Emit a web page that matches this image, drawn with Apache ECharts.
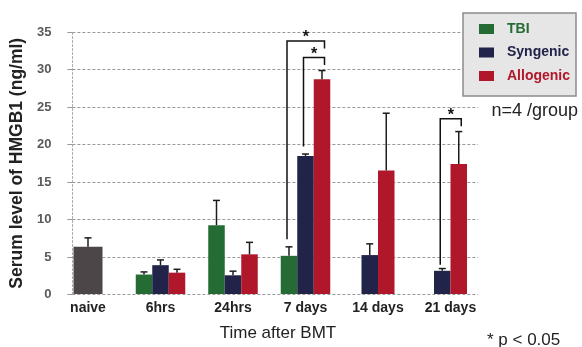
<!DOCTYPE html>
<html><head><meta charset="utf-8">
<script src="https://cdn.jsdelivr.net/npm/echarts@6/dist/echarts.min.js"></script>
<style>html,body{margin:0;padding:0;background:#fff}#c{width:582px;height:347px}</style>
</head><body><div id="c"></div>
<script>
// ---- data ----
var categories = ['naive', '6hrs', '24hrs', '7 days', '14 days', '21 days'];
var naiveMean = [6.3, null, null, null, null, null];
var naiveErr  = [1.2, null, null, null, null, null];
var tbiMean   = [null, 2.6, 9.2, 5.1, null, null];
var tbiErr    = [null, 0.35, 3.3, 1.2, null, null];
var synMean   = [null, 3.85, 2.5, 18.45, 5.2, 3.1];
var synErr    = [null, 0.7, 0.55, 0.25, 1.5, 0.3];
var alloMean  = [null, 2.85, 5.3, 28.7, 16.5, 17.35];
var alloErr   = [null, 0.45, 1.6, 1.15, 7.65, 4.35];
var yMin = 0, yMax = 35, yStep = 5;
// significance brackets (values in ng/ml)
var bracketCats  = ['7 days', '7 days', '21 days'];
var bracketFrom  = ['TBI', 'Syngenic', 'Syngenic'];
var bracketTo    = ['Allogenic', 'Allogenic', 'Allogenic'];
var bracketTop   = [33.8, 31.6, 23.4];
var bracketFromEnd = [7.3, 19.7, 3.9];
var bracketToEnd   = [32.8, 30.6, 22.4];

// ---- layout / style ----
var FONT = 'Liberation Sans, Arial, Helvetica, sans-serif';
var BAR_W = 0.2276, NAIVE_W = 0.40;
var colors = {naive: '#4d4648', TBI: '#246b34', Syngenic: '#222348', Allogenic: '#b1172a'};
var groupNames = ['TBI', 'Syngenic', 'Allogenic'];
var groupMeans = [tbiMean, synMean, alloMean];
var groupErrs = [tbiErr, synErr, alloErr];

function slotOf(ci, name) {
  var present = [];
  for (var g = 0; g < 3; g++) if (groupMeans[g][ci] != null) present.push(groupNames[g]);
  var i = present.indexOf(name);
  return i - (present.length - 1) / 2;
}
function buildData(means, errs, name) {
  var out = [];
  for (var i = 0; i < categories.length; i++) {
    if (means[i] == null) continue;
    out.push([i, means[i], errs[i], name === 'naive' ? 0 : slotOf(i, name)]);
  }
  return out;
}
function barItem(params, api) {
  var ci = api.value(0), v = api.value(1), e = api.value(2), slot = api.value(3);
  var band = api.size([1, 0])[0];
  var w = band * (params.seriesName === 'naive' ? NAIVE_W : BAR_W);
  var top = api.coord([ci, v]), base = api.coord([ci, 0]), et = api.coord([ci, v + e]);
  var cx = top[0] + slot * band * BAR_W;
  return {type: 'group', children: [
    {type: 'rect', shape: {x: cx - w / 2, y: top[1], width: w, height: base[1] - top[1]}, style: {fill: api.visual('color')}},
    {type: 'line', shape: {x1: cx, y1: top[1], x2: cx, y2: et[1]}, style: {stroke: '#1c1c1c', lineWidth: 1.5}},
    {type: 'line', shape: {x1: cx - 3.5, y1: et[1], x2: cx + 3.5, y2: et[1]}, style: {stroke: '#1c1c1c', lineWidth: 1.5}}
  ]};
}
var bracketData = bracketCats.map(function (c, k) {
  var ci = categories.indexOf(c);
  return [ci, bracketTop[k], bracketFromEnd[k], bracketToEnd[k], slotOf(ci, bracketFrom[k]), slotOf(ci, bracketTo[k])];
});
function bracketItem(params, api) {
  var ci = api.value(0);
  var band = api.size([1, 0])[0];
  var c = api.coord([ci, api.value(1)]);
  var yTop = c[1], yL = api.coord([ci, api.value(2)])[1], yR = api.coord([ci, api.value(3)])[1];
  var xL = c[0] + api.value(4) * band * BAR_W - 2, xR = c[0] + api.value(5) * band * BAR_W + 2.5;
  return {type: 'group', children: [
    {type: 'polyline', shape: {points: [[xL, yL], [xL, yTop], [xR, yTop], [xR, yR]]}, style: {stroke: '#111', lineWidth: 1.5, fill: null}},
    {type: 'text', style: {text: '*', x: (xL + xR) / 2, y: yTop - 3, align: 'center', verticalAlign: 'middle', font: 'bold 16px ' + FONT, fill: '#111'}}
  ]};
}

var series = [{
  name: 'naive', type: 'custom', xAxisIndex: 0, yAxisIndex: 0, renderItem: barItem,
  itemStyle: {color: colors.naive}, encode: {x: 0, y: 1}, data: buildData(naiveMean, naiveErr, 'naive'), silent: true
}];
groupNames.forEach(function (n, g) {
  series.push({name: n, type: 'custom', xAxisIndex: 0, yAxisIndex: 0, renderItem: barItem,
    itemStyle: {color: colors[n]}, encode: {x: 0, y: 1}, data: buildData(groupMeans[g], groupErrs[g], n), silent: true});
});
series.push({name: 'brackets', type: 'custom', xAxisIndex: 0, yAxisIndex: 0, renderItem: bracketItem,
  encode: {x: 0, y: 1}, data: bracketData, silent: true, z: 5});

var chart = echarts.init(document.getElementById('c'), null, {renderer: 'canvas'});
chart.setOption({
  animation: false,
  backgroundColor: '#fff',
  grid: [
    {left: 51.75, width: 435, top: 32, height: 262.5},
    {left: 71, width: 407, top: 32, height: 262.5}
  ],
  xAxis: [
    {type: 'category', gridIndex: 0, data: categories, boundaryGap: true,
     axisLine: {show: false}, axisTick: {show: false}, splitLine: {show: false},
     axisLabel: {margin: 7, color: '#222', fontSize: 14, fontWeight: 'bold', fontFamily: FONT},
     name: 'Time after BMT', nameLocation: 'middle', nameGap: 31,
     nameTextStyle: {color: '#222', fontSize: 17, fontFamily: FONT, padding: [0, 0, 0, 17.5]}},
    {type: 'value', gridIndex: 1, show: false, min: 0, max: 1}
  ],
  yAxis: [
    {type: 'value', gridIndex: 0, min: yMin, max: yMax, show: false},
    {type: 'value', gridIndex: 1, min: yMin, max: yMax, interval: yStep,
     axisLine: {show: true, lineStyle: {color: '#aaa', type: [2, 2], width: 1}},
     axisTick: {show: true, length: 5, lineStyle: {color: '#999'}},
     axisLabel: {margin: 21, color: '#5a5a5a', fontSize: 13, fontWeight: 'bold', fontFamily: FONT},
     splitLine: {show: true, lineStyle: {color: '#999', type: [3, 2], width: 1}},
     name: 'Serum level of HMGB1 (ng/ml)', nameLocation: 'middle', nameGap: 38,
     nameTextStyle: {color: '#222', fontSize: 17.5, fontWeight: 'bold', fontFamily: FONT}}
  ],
  legend: {
    orient: 'vertical', left: 463, top: 13, icon: 'rect',
    itemWidth: 15, itemHeight: 10, itemGap: 7.5,
    padding: [8, 6, 12, 16],
    backgroundColor: '#e6e6e6', borderColor: '#8c8c8c', borderWidth: 1.5,
    selectedMode: false,
    textStyle: {fontSize: 14, fontWeight: 'bold', fontFamily: FONT, lineHeight: 16, padding: [0, 0, 0, 8]},
    data: [
      {name: 'TBI', textStyle: {color: colors.TBI}},
      {name: 'Syngenic', textStyle: {color: colors.Syngenic}},
      {name: 'Allogenic', textStyle: {color: colors.Allogenic}}
    ]
  },
  graphic: [
    {type: 'text', left: 491.5, top: 102, style: {text: 'n=4 /group', font: '18px ' + FONT, fill: '#222'}},
    {type: 'text', left: 487, top: 332, style: {text: '* p < 0.05', font: '17px ' + FONT, fill: '#222'}}
  ],
  series: series
});
</script></body></html>
